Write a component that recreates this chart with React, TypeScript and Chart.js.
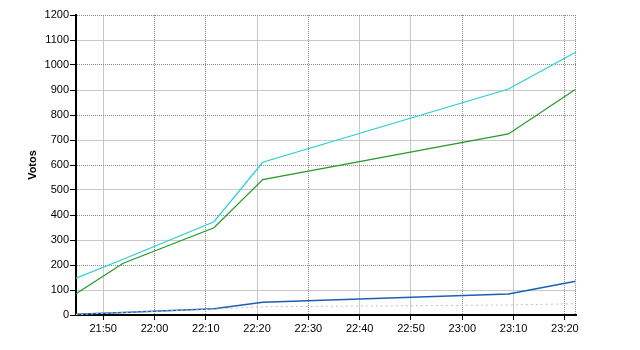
import React, { useEffect, useRef } from "react";
import { Chart, registerables } from "chart.js";

Chart.register(...registerables);

const times = ["21:44:42", "21:53:54", "22:11:36", "22:21:06", "23:09:00", "23:22:06"];
const cyanValues = [147, 223, 373, 611, 904, 1051];
const greenValues = [85, 207, 349, 542, 724, 903];
const blueValues = [3, 10, 25, 51, 84, 135];
const grayValues = [2, 10, 23, 33, 40, 45];

const xMin = "21:44:42";
const xMax = "23:22:10";
const xTickLabels = ["21:50", "22:00", "22:10", "22:20", "22:30", "22:40", "22:50", "23:00", "23:10", "23:20"];
const xDottedTicks = ["22:00", "22:10", "22:30", "23:00", "23:20"];
const yMin = 0;
const yMax = 1200;
const yStep = 100;
const yTitle = "Votos";

const toMin = (s: string) => {
  const p = s.split(":").map(Number);
  return p[0] * 60 + p[1] + (p[2] || 0) / 60;
};
const fmt = (v: number) => {
  const h = Math.floor(v / 60);
  const m = Math.round(v - h * 60);
  return `${h}:${String(m).padStart(2, "0")}`;
};

const xs = times.map(toMin);
const pts = (vals: number[]) => vals.map((y, i) => ({ x: xs[i], y }));

const DOT = "#8c8c8c";
const SOLID = "#c8c8c8";
const FONT = "'Liberation Sans', Arial, sans-serif";

export default function App() {
  const ref = useRef<HTMLCanvasElement>(null);
  useEffect(() => {
    document.body.style.margin = "0";
    const frame = {
      id: "frame",
      afterDraw(chart: any) {
        const { ctx, chartArea } = chart;
        ctx.save();
        ctx.strokeStyle = DOT;
        ctx.lineWidth = 1;
        ctx.setLineDash([1, 1]);
        ctx.beginPath();
        ctx.moveTo(Math.round(chartArea.right) - 0.5, chartArea.top);
        ctx.lineTo(Math.round(chartArea.right) - 0.5, chartArea.bottom);
        ctx.stroke();
        ctx.restore();
      },
    };
    const chart = new Chart(ref.current!, {
      type: "line",
      data: {
        datasets: [
          { data: pts(grayValues), borderColor: "#c0c0c0", borderWidth: 1, borderDash: [2, 3] },
          { data: pts(blueValues), borderColor: "#1a5fb4", borderWidth: 1.3 },
          { data: pts(greenValues), borderColor: "#2a9a2a", borderWidth: 1.3 },
          { data: pts(cyanValues), borderColor: "#2ccfd6", borderWidth: 1.3 },
        ],
      },
      options: {
        animation: false,
        responsive: false,
        maintainAspectRatio: false,
        elements: { point: { radius: 0 }, line: { tension: 0 } },
        layout: { padding: { left: 0, right: 64, top: 15, bottom: 0 } },
        plugins: { legend: { display: false }, tooltip: { enabled: false } },
        scales: {
          x: {
            type: "linear",
            min: toMin(xMin),
            max: toMin(xMax),
            afterBuildTicks: (s: any) => {
              s.ticks = xTickLabels.map((l) => ({ value: toMin(l) }));
            },
            afterFit: (s: any) => {
              s.height = 35;
            },
            ticks: {
              callback: (v: any) => fmt(Number(v)),
              color: "#000",
              font: { family: FONT, size: 11 },
              padding: 2,
              maxRotation: 0,
              autoSkip: false,
            },
            grid: {
              color: (c: any) =>
                c.tick && xDottedTicks.includes(fmt(c.tick.value)) ? DOT : SOLID,
              tickColor: "#000",
              tickLength: 5,
              tickBorderDash: [],
              lineWidth: 1,
            },
            border: {
              color: "#000",
              width: 2,
              dash: (c: any) =>
                c.tick && xDottedTicks.includes(fmt(c.tick.value)) ? [1, 1] : [],
            },
          },
          y: {
            min: yMin,
            max: yMax,
            afterFit: (s: any) => {
              s.width = 76;
            },
            ticks: {
              stepSize: yStep,
              callback: (v: any) => String(v),
              color: "#000",
              font: { family: FONT, size: 11 },
              padding: 1,
            },
            title: {
              display: true,
              text: yTitle,
              color: "#000",
              font: { family: FONT, size: 11, weight: "bold" },
              padding: { top: 26, bottom: 0 },
            },
            grid: {
              color: (c: any) =>
                c.tick && Math.round(c.tick.value / yStep) % 2 === 0 ? DOT : SOLID,
              tickColor: "#000",
              tickLength: 6,
              tickBorderDash: [],
              lineWidth: 1,
            },
            border: {
              color: "#000",
              width: 2,
              dash: (c: any) =>
                c.tick && Math.round(c.tick.value / yStep) % 2 === 0 ? [1, 1] : [],
            },
          },
        },
      },
      plugins: [frame],
    } as any);
    return () => chart.destroy();
  }, []);
  return <canvas ref={ref} width={640} height={350} style={{ display: "block" }} />;
}
